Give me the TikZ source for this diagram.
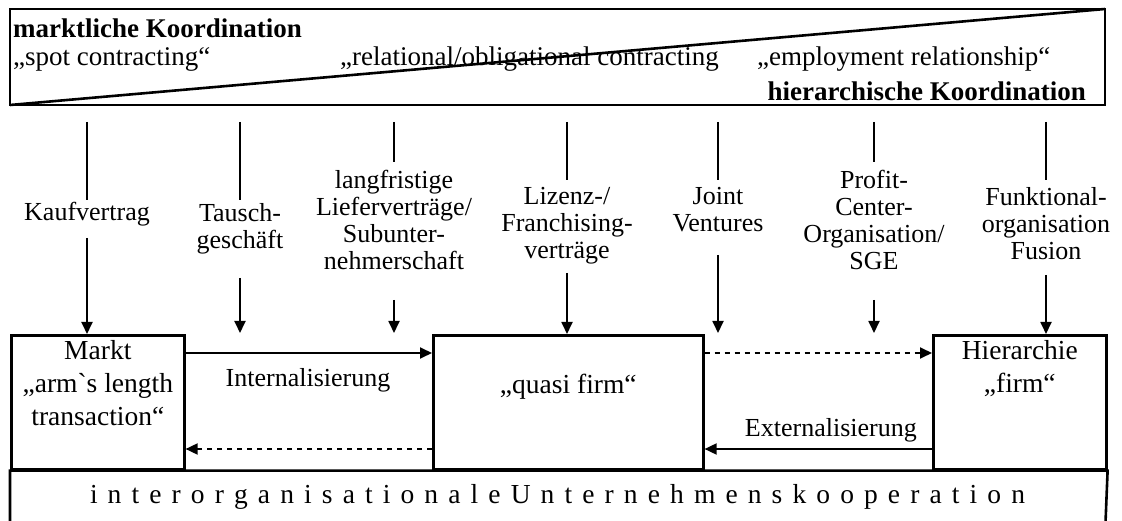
\documentclass[tikz,border=0pt]{standalone}
\usepackage{fontspec}
\setmainfont{Liberation Serif}
\newfontfamily\rawserif{Liberation Serif}
\usetikzlibrary{arrows.meta}
\newcommand\labfont{\fontsize{26}{27}\selectfont}
\newcommand\boxfont{\fontsize{27.5}{33}\selectfont}
\newcommand\topfont{\fontsize{27}{28}\selectfont}
\begin{document}
\begin{tikzpicture}[x=1pt,y=-1pt,
  frame/.style={draw,line width=2.6pt,inner sep=0pt},
  conn/.style={line width=1.8pt},
  arr/.style={line width=1.8pt,-{Triangle[length=12pt,width=11pt]}},
  darr/.style={arr,dash pattern=on 5pt off 5pt},
  lab/.style={font=\labfont,align=center,inner sep=0pt,anchor=north,execute at begin node=\strut},
  btxt/.style={font=\boxfont,align=center,inner sep=0pt,anchor=north,execute at begin node=\strut},
  ttxt/.style={font=\topfont,inner sep=0pt,anchor=base west}]
\useasboundingbox (0,0) rectangle (1122,521);
% top band
\draw[line width=2.6pt] (10,9) rectangle (1105,105);
\coordinate (dl) at (10,105);
\coordinate (dr) at (1105,9);
\draw[line width=2.6pt] (dl) -- (dr);
\node[ttxt] (mk) at (13,38) {\bfseries marktliche Koordination};
\node[ttxt] (spot) at (13,66) {„spot contracting“};
\node[ttxt] (rel) at (340,66) {„relational/obligational contracting};
\node[ttxt] (emp) at (757,66) {„employment relationship“};
\node[ttxt,anchor=base east] (hk) at (1086,101) {\bfseries hierarchische Koordination};
% boxes
\node[frame,anchor=north west,minimum width=173pt,minimum height=134pt] (markt) at (10,334) {};
\node[frame,anchor=north west,minimum width=270pt,minimum height=134pt] (quasi) at (432,334) {};
\node[frame,anchor=north west,minimum width=173pt,minimum height=134pt] (hier) at (932,334) {};
\coordinate (bl) at (10,535);
\coordinate (br) at (1105,535);
\draw[line width=2.6pt] (bl) -- (markt.south west) -- (hier.south east) -- (br);
% box texts
\node[btxt] (tm) at (markt.north |- 0,340) {Markt\\„arm{\rawserif\symbol{96}}s length\\transaction“};
\node[btxt] (tq) at (quasi.north |- 0,370) {„quasi firm“};
\node[btxt] (th) at (hier.north |- 0,340) {Hierarchie\\„firm“};
\node[lab,anchor=base] (tint) at (308,386) {Internalisierung};
\node[lab,anchor=base east] (text) at (917,436) {Externalisierung};
\node[font=\boxfont,anchor=base,inner sep=0pt] (coop) at (557.5,503)
  {\makebox[935pt][s]{i n t e r o r g a n i s a t i o n a l e U n t e r n e h m e n s k o o p e r a t i o n}};
% horizontal arrows
\draw[arr] (markt.east |- 0,353) -- (quasi.west |- 0,353);
\draw[darr] (quasi.east |- 0,353) -- (hier.west |- 0,353);
\draw[arr] (hier.west |- 0,449) -- (quasi.east |- 0,449);
\draw[darr] (quasi.west |- 0,449) -- (markt.east |- 0,449);
% column labels
\node[lab] (k1) at (87,201) {Kaufvertrag};
\node[lab] (k2) at (240,203) {Tausch-\\geschäft};
\node[lab] (k3) at (394,170) {langfristige\\Lieferverträge/\\Subunter-\\nehmerschaft};
\node[lab] (k4) at (567,187) {Lizenz-/\\Franchising-\\verträge};
\node[lab] (k5) at (718,187) {Joint\\Ventures};
\node[lab] (k6) at (874,170) {Profit-\\Center-\\Organisation/\\SGE};
\node[lab] (k7) at (1046,187) {Funktional-\\organisation\\Fusion};
% column connectors
\foreach \i/\x/\u/\l in {1/87/200/238,2/240/200/278,3/394/162/300,4/567/180/273,5/718/180/255,6/874/162/300,7/1046/180/275}{
  \coordinate (t\i) at (\x,122);
  \coordinate (u\i) at (\x,\u);
  \coordinate (l\i) at (\x,\l);
  \coordinate (e\i) at (\x,333);
}
\foreach \i in {1,...,7}{\draw[conn] (t\i) -- (u\i);}
\draw[arr] (l1) -- (l1 |- markt.north);
\draw[arr] (l2) -- (e2);
\draw[arr] (l3) -- (e3);
\draw[arr] (l4) -- (l4 |- quasi.north);
\draw[arr] (l5) -- (e5);
\draw[arr] (l6) -- (e6);
\draw[arr] (l7) -- (l7 |- hier.north);
\end{tikzpicture}
\end{document}
